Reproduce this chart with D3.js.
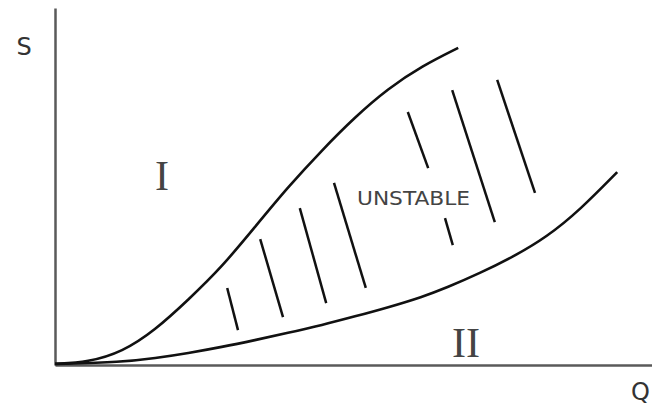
<!DOCTYPE html>
<html>
<head>
<meta charset="utf-8">
<script src="https://cdn.jsdelivr.net/npm/d3@7"></script>
<style>
  html, body { margin: 0; padding: 0; background: #fff; }
  svg { display: block; }
</style>
</head>
<body>
<div id="chart"></div>
<script>
// Stability map: flow Q on x, S on y (arbitrary units)
const upperQ = [0, 0.55, 1.12, 1.67, 2.22, 2.78, 3.33, 3.88, 4.45, 5.0, 5.55, 6.12, 6.72];
const upperS = [0.03, 0.08, 0.36, 0.97, 1.81, 2.72, 3.83, 4.94, 5.97, 6.89, 7.68, 8.31, 8.81];

const lowerQ = [0, 1.12, 1.67, 2.22, 2.78, 3.33, 3.88, 4.45, 5.0, 5.55, 6.12, 6.53, 7.08, 7.63, 8.2, 8.75, 9.37];
const lowerS = [0.03, 0.08, 0.19, 0.33, 0.5, 0.69, 0.89, 1.11, 1.35, 1.6, 1.89, 2.15, 2.55, 3.0, 3.56, 4.31, 5.36];

// hatch strokes in the unstable region: [q1, s1, q2, s2]
const hatches = [
  [2.87, 2.14, 3.05, 0.97],
  [3.42, 3.50, 3.80, 1.33],
  [4.08, 4.36, 4.52, 1.72],
  [4.65, 5.06, 5.18, 2.14],
  [5.88, 7.03, 6.22, 5.47],
  [6.62, 7.64, 7.33, 3.97],
  [7.37, 7.92, 8.00, 4.78],
  [6.50, 4.08, 6.63, 3.33]
];

const width = 652, height = 405;

const svg = d3.select("#chart")
  .append("svg")
  .attr("width", width)
  .attr("height", height);

const x = d3.scaleLinear().domain([0, 9.95]).range([55, 652]);
const y = d3.scaleLinear().domain([0, 9.92]).range([365, 8]);

// axes, no ticks
svg.append("g")
  .attr("transform", `translate(0,${y(0)})`)
  .call(d3.axisBottom(x).ticks(0).tickSize(0).tickSizeOuter(0))
  .call(g => g.select(".domain").attr("stroke", "#5a5a5a").attr("stroke-width", 2.5));

svg.append("g")
  .attr("transform", `translate(${x(0)},0)`)
  .call(d3.axisLeft(y).ticks(0).tickSize(0).tickSizeOuter(0))
  .call(g => g.select(".domain").attr("stroke", "#5a5a5a").attr("stroke-width", 2.5));

// curves
const line = d3.line()
  .x(d => x(d[0]))
  .y(d => y(d[1]))
  .curve(d3.curveBasis);

svg.append("path")
  .datum(d3.zip(upperQ, upperS))
  .attr("fill", "none")
  .attr("stroke", "#111")
  .attr("stroke-width", 2.6)
  .attr("d", line);

svg.append("path")
  .datum(d3.zip(lowerQ, lowerS))
  .attr("fill", "none")
  .attr("stroke", "#111")
  .attr("stroke-width", 2.6)
  .attr("d", line);

// hatching
svg.selectAll("line.hatch")
  .data(hatches)
  .join("line")
  .attr("class", "hatch")
  .attr("x1", d => x(d[0]))
  .attr("y1", d => y(d[1]))
  .attr("x2", d => x(d[2]))
  .attr("y2", d => y(d[3]))
  .attr("stroke", "#111")
  .attr("stroke-width", 2.5);

// labels
svg.append("text")
  .attr("x", 24)
  .attr("y", 55)
  .attr("text-anchor", "middle")
  .style("font-family", "DejaVu Sans")
  .style("font-size", "24px")
  .attr("fill", "#333")
  .text("S");

svg.append("text")
  .attr("x", 631)
  .attr("y", 400)
  .style("font-family", "DejaVu Sans")
  .style("font-size", "24px")
  .attr("fill", "#333")
  .text("Q");

svg.append("text")
  .attr("x", 162)
  .attr("y", 190)
  .attr("text-anchor", "middle")
  .style("font-family", "Liberation Serif")
  .style("font-size", "42px")
  .attr("fill", "#444")
  .text("I");

svg.append("text")
  .attr("x", 466)
  .attr("y", 357)
  .attr("text-anchor", "middle")
  .style("font-family", "Liberation Serif")
  .style("font-size", "42px")
  .attr("fill", "#444")
  .text("II");

svg.append("text")
  .attr("x", 357)
  .attr("y", 205)
  .attr("textLength", 113)
  .attr("lengthAdjust", "spacingAndGlyphs")
  .style("font-family", "DejaVu Sans")
  .style("font-size", "20px")
  .attr("fill", "#444")
  .text("UNSTABLE");
</script>
</body>
</html>
